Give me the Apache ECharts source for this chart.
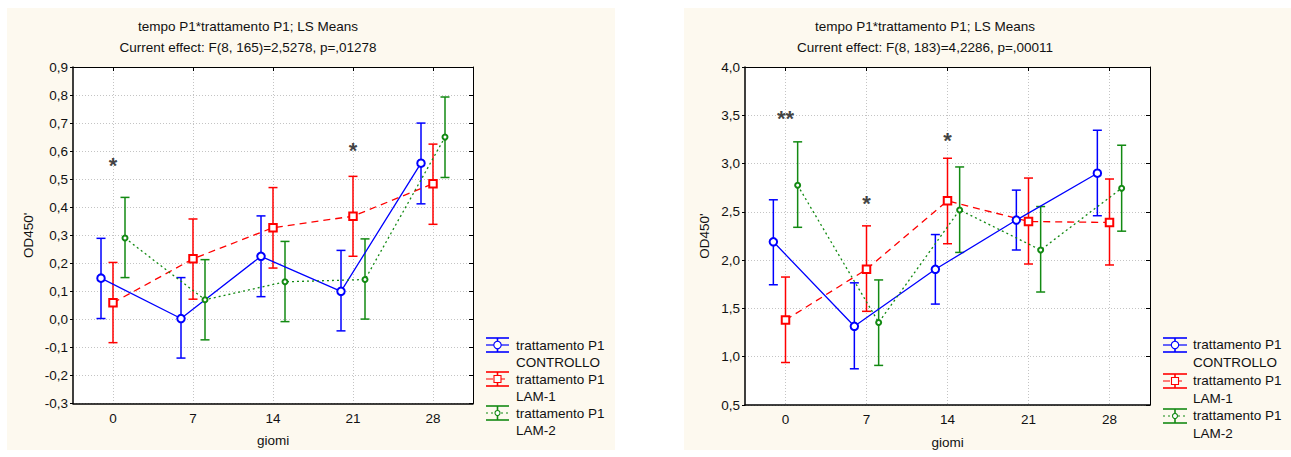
<!DOCTYPE html>
<html><head><meta charset="utf-8">
<script src="https://cdn.jsdelivr.net/npm/echarts@6/dist/echarts.min.js"></script>
<style>html,body{margin:0;padding:0;background:#fff}#c{width:1291px;height:457px}</style>
</head><body><div id="c"></div>
<script>
// ---------- data ----------
const days = ['0', '7', '14', '21', '28'];
const seriesNames = ['trattamento P1\nCONTROLLO', 'trattamento P1\nLAM-1', 'trattamento P1\nLAM-2'];
const titleLine1 = 'tempo P1*trattamento P1; LS Means';
const leftEffect = 'Current effect: F(8, 165)=2,5278, p=,01278';
const rightEffect = 'Current effect: F(8, 183)=4,2286, p=,00011';
const xName = 'giomi';
const yName = "OD450'";

// left chart (LS means with 95% CI)
const L_ctrlMean = [0.147, 0.003, 0.225, 0.100, 0.557];
const L_ctrlLow  = [0.003, -0.138, 0.081, -0.041, 0.412];
const L_ctrlHigh = [0.289, 0.149, 0.369, 0.246, 0.700];
const L_lam1Mean = [0.059, 0.216, 0.327, 0.368, 0.484];
const L_lam1Low  = [-0.083, 0.072, 0.183, 0.225, 0.339];
const L_lam1High = [0.203, 0.358, 0.470, 0.510, 0.625];
const L_lam2Mean = [0.290, 0.070, 0.134, 0.142, 0.650];
const L_lam2Low  = [0.149, -0.073, -0.008, 0.001, 0.506];
const L_lam2High = [0.435, 0.213, 0.278, 0.287, 0.793];
const L_yMin = -0.3, L_yMax = 0.9, L_yStep = 0.1;
const L_stars = [[0, 0.57, '*'], [3, 0.625, '*']];

// right chart
const R_ctrlMean = [2.19, 1.315, 1.905, 2.415, 2.90];
const R_ctrlLow  = [1.745, 0.875, 1.545, 2.105, 2.46];
const R_ctrlHigh = [2.625, 1.765, 2.265, 2.725, 3.345];
const R_lam1Mean = [1.38, 1.905, 2.615, 2.40, 2.39];
const R_lam1Low  = [0.94, 1.47, 2.17, 1.96, 1.95];
const R_lam1High = [1.825, 2.355, 3.055, 2.85, 2.84];
const R_lam2Mean = [2.775, 1.355, 2.52, 2.105, 2.745];
const R_lam2Low  = [2.34, 0.91, 2.08, 1.67, 2.30];
const R_lam2High = [3.225, 1.795, 2.965, 2.555, 3.19];
const R_yMin = 0.5, R_yMax = 4.0, R_yStep = 0.5;
const R_stars = [[0, 3.53, '**'], [1, 2.65, '*'], [2, 3.30, '*']];

// ---------- styles ----------
const FONT = '"Liberation Sans", Arial, sans-serif';
const FS = 13.5;
const COLORS = ['#0000ff', '#ff0000', '#138a13'];
const DASH = ['solid', [7, 5], [2, 3]];
const SYMBOL = ['emptyCircle', 'emptyRect', 'emptyCircle'];
const SYMSIZE = [7.5, 7.5, 5];
const DODGE = [-0.15, 0, 0.15];
const PANEL = '#fdf9ef';

function fmtComma(v) {
  if (Math.abs(v) < 1e-9) v = 0;
  return v.toFixed(1).replace('.', ',');
}

function errRender(params, api) {
  const x = api.value(0), lo = api.value(1), hi = api.value(2);
  const pLo = api.coord([x, lo]), pHi = api.coord([x, hi]);
  const hw = 4.5;
  const style = { stroke: api.visual('color'), lineWidth: 1.5, fill: null };
  return { type: 'group', children: [
    { type: 'line', shape: { x1: pLo[0], y1: pLo[1], x2: pHi[0], y2: pHi[1] }, style: style },
    { type: 'line', shape: { x1: pLo[0] - hw, y1: pLo[1], x2: pLo[0] + hw, y2: pLo[1] }, style: style },
    { type: 'line', shape: { x1: pHi[0] - hw, y1: pHi[1], x2: pHi[0] + hw, y2: pHi[1] }, style: style }
  ] };
}

const option = {
  animation: false,
  textStyle: { fontFamily: FONT },
  grid: [], xAxis: [], yAxis: [], series: [], graphic: []
};

function addChart(g, box, means, lows, highs, yMin, yMax, yStep, stars, nameGapY, labelMargin, nameGapX) {
  option.grid.push(Object.assign({ show: true, backgroundColor: '#fff', borderWidth: 0 }, box));
  const xi = option.xAxis.length, yi = option.yAxis.length;
  const ticksX = days.map((d, i) => i);
  option.xAxis.push({
    type: 'value', gridIndex: g, min: -0.5, max: 4.5, position: 'bottom',
    name: xName, nameLocation: 'middle', nameGap: nameGapX,
    nameTextStyle: { fontSize: FS, color: '#111', fontFamily: FONT },
    axisLine: { show: true, onZero: false, lineStyle: { color: '#000', width: 1.5 } },
    axisTick: { show: false, customValues: ticksX },
    axisLabel: { customValues: ticksX, formatter: v => days[Math.round(v)], fontSize: FS, color: '#111', margin: labelMargin, fontFamily: FONT },
    splitLine: { show: true, lineStyle: { color: '#c4c4c4', type: [1, 2], width: 1 } }
  });
  option.xAxis.push({
    type: 'value', gridIndex: g, min: -0.5, max: 4.5, position: 'top',
    axisLine: { show: true, onZero: false, lineStyle: { color: '#000', width: 1 } },
    axisTick: { show: true, inside: true, length: 4, customValues: ticksX, lineStyle: { color: '#000' } },
    axisLabel: { show: false, customValues: ticksX },
    splitLine: { show: false }
  });
  option.yAxis.push({
    type: 'value', gridIndex: g, min: yMin, max: yMax, interval: yStep, position: 'left',
    name: yName, nameLocation: 'middle', nameGap: nameGapY,
    nameTextStyle: { fontSize: FS, color: '#111', fontFamily: FONT },
    axisLine: { show: true, onZero: false, lineStyle: { color: '#000', width: 1.5 } },
    axisTick: { show: true, length: 3, lineStyle: { color: '#000' } },
    axisLabel: { formatter: fmtComma, fontSize: FS, color: '#111', margin: 5, fontFamily: FONT },
    splitLine: { show: true, lineStyle: { color: '#c4c4c4', type: [1, 2], width: 1 } }
  });
  option.yAxis.push({
    type: 'value', gridIndex: g, min: yMin, max: yMax, interval: yStep, position: 'right',
    axisLine: { show: true, onZero: false, lineStyle: { color: '#000', width: 1 } },
    axisTick: { show: true, inside: true, length: 4, lineStyle: { color: '#000' } },
    axisLabel: { show: false },
    splitLine: { show: false }
  });
  for (let k = 0; k < 3; k++) {
    const off = DODGE[k];
    option.series.push({
      type: 'custom', xAxisIndex: xi, yAxisIndex: yi, renderItem: errRender,
      itemStyle: { color: COLORS[k] }, z: 3,
      data: lows[k].map((lo, i) => [i + off, lo, highs[k][i]])
    });
    option.series.push({
      type: 'line', xAxisIndex: xi, yAxisIndex: yi, z: 4,
      symbol: SYMBOL[k], symbolSize: SYMSIZE[k],
      itemStyle: { color: COLORS[k], borderWidth: 1.1 },
      lineStyle: { color: COLORS[k], width: 1.3, type: DASH[k] },
      data: means[k].map((v, i) => [i + off, v])
    });
  }
  option.series.push({
    type: 'scatter', xAxisIndex: xi, yAxisIndex: yi, z: 5,
    symbolSize: 1, itemStyle: { color: 'transparent' },
    label: { show: true, position: 'inside', formatter: p => p.data[2],
      fontSize: 22, fontWeight: 'bold', color: '#111', offset: [0, 6], fontFamily: FONT },
    data: stars
  });
}

addChart(0, { left: 73, top: 67, width: 400, height: 336.5 },
  [L_ctrlMean, L_lam1Mean, L_lam2Mean], [L_ctrlLow, L_lam1Low, L_lam2Low], [L_ctrlHigh, L_lam1High, L_lam2High],
  L_yMin, L_yMax, L_yStep, L_stars, 38, 8, 30);
addChart(1, { left: 745, top: 67, width: 405, height: 338 },
  [R_ctrlMean, R_lam1Mean, R_lam2Mean], [R_ctrlLow, R_lam1Low, R_lam2Low], [R_ctrlHigh, R_lam1High, R_lam2High],
  R_yMin, R_yMax, R_yStep, R_stars, 34, 7, 30);

// panels
option.graphic.push({ type: 'rect', z: -100, shape: { x: 7, y: 8, width: 608, height: 442 }, style: { fill: PANEL } });
option.graphic.push({ type: 'rect', z: -100, shape: { x: 684, y: 8, width: 607, height: 442 }, style: { fill: PANEL } });

// titles
function addTitle(cx, sub) {
  option.graphic.push({ type: 'text', x: cx, y: 26, style: { text: titleLine1, fontSize: FS, fontFamily: FONT, fill: '#111', align: 'center', verticalAlign: 'middle' } });
  option.graphic.push({ type: 'text', x: cx, y: 47, style: { text: sub, fontSize: FS, fontFamily: FONT, fill: '#111', align: 'center', verticalAlign: 'middle' } });
}
addTitle(248, leftEffect);
addTitle(925, rightEffect);

// legends
function addLegend(x0, x1, textX, rows, gap) {
  const xc = (x0 + x1) / 2;
  for (let k = 0; k < 3; k++) {
    const y = rows[k], c = COLORS[k];
    const st = { stroke: c, lineWidth: 1.6, fill: null };
    option.graphic.push({ type: 'line', shape: { x1: x0, y1: y - 7, x2: x1, y2: y - 7 }, style: st });
    option.graphic.push({ type: 'line', shape: { x1: x0, y1: y + 7, x2: x1, y2: y + 7 }, style: st });
    option.graphic.push({ type: 'line', shape: { x1: xc, y1: y - 7, x2: xc, y2: y + 7 }, style: st });
    option.graphic.push({ type: 'line', shape: { x1: x0, y1: y, x2: x1, y2: y },
      style: { stroke: c, lineWidth: 1.2, lineDash: DASH[k] === 'solid' ? null : DASH[k] } });
    if (k === 1) {
      option.graphic.push({ type: 'rect', shape: { x: xc - 3.5, y: y - 3.5, width: 7, height: 7 }, style: { stroke: c, fill: '#fff', lineWidth: 1.1 } });
    } else {
      option.graphic.push({ type: 'circle', shape: { cx: xc, cy: y, r: k === 0 ? 3.7 : 2.5 }, style: { stroke: c, fill: '#fff', lineWidth: 1.1 } });
    }
    option.graphic.push({ type: 'text', x: textX, y: y - gap / 2,
      style: { text: seriesNames[k], fontSize: FS, fontFamily: FONT, fill: '#111', align: 'left', verticalAlign: 'top', lineHeight: gap } });
  }
}
addLegend(486, 509, 516, [345, 379, 413], 17);
addLegend(1163, 1187, 1193, [345, 381, 416], 17.6);

const chart = echarts.init(document.getElementById('c'), null, { renderer: 'svg' });
chart.setOption(option);
</script></body></html>
